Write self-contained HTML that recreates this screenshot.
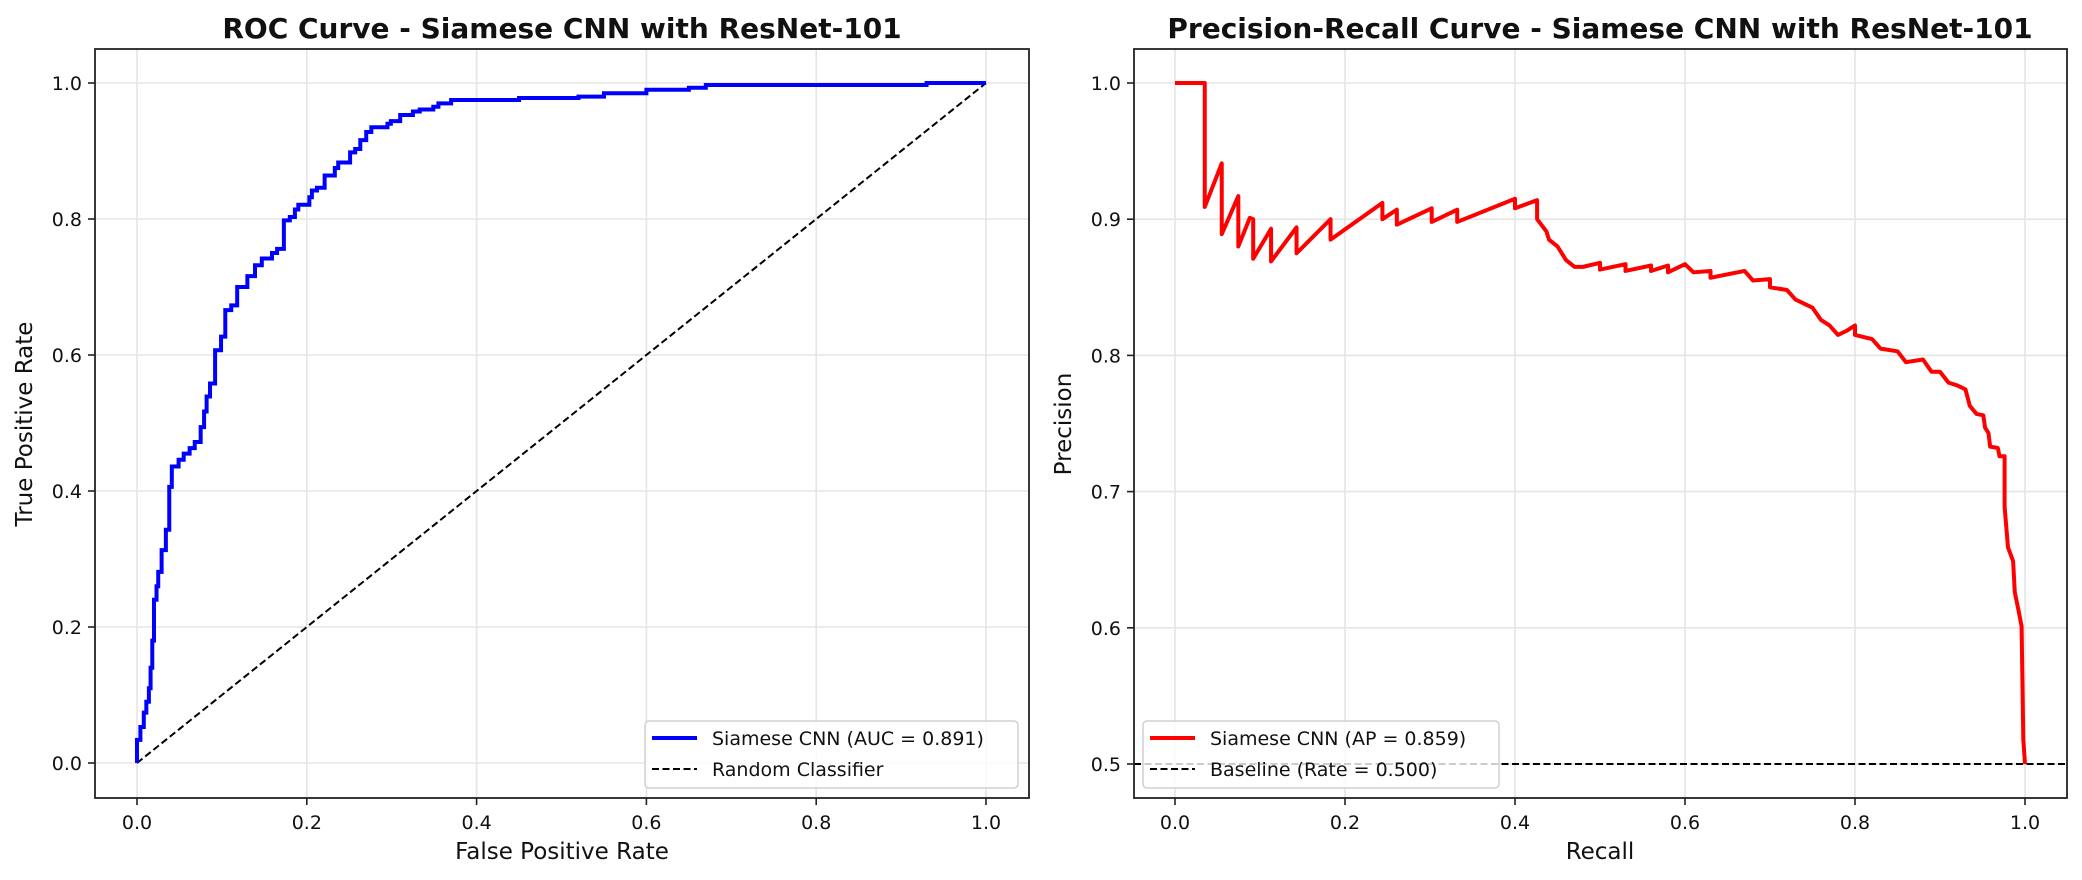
<!DOCTYPE html>
<html><head><meta charset="utf-8"><style>
html,body{margin:0;padding:0;background:#fff;}
svg{display:block;font-family:"DejaVu Sans","Liberation Sans",sans-serif;}
</style></head><body>
<svg id="fig" width="2082" height="880" viewBox="0 0 2082 880" xmlns="http://www.w3.org/2000/svg"></svg>
<script>
// ROC data
const rocFpr = [0,0,0.004,0.008,0.011,0.014,0.016,0.018,0.020,0.023,0.025,0.029,0.034,0.038,0.041,0.049,0.055,0.062,0.068,0.075,0.079,0.082,0.086,0.092,0.099,0.104,0.111,0.118,0.130,0.139,0.147,0.159,0.165,0.173,0.180,0.186,0.190,0.203,0.206,0.212,0.221,0.233,0.237,0.251,0.257,0.263,0.270,0.276,0.295,0.299,0.310,0.325,0.333,0.349,0.355,0.370,0.450,0.520,0.550,0.600,0.650,0.670,0.930,1.0];
const rocTpr = [0,0.034,0.053,0.074,0.090,0.110,0.140,0.180,0.240,0.260,0.281,0.313,0.343,0.406,0.436,0.446,0.455,0.463,0.472,0.494,0.517,0.539,0.558,0.607,0.627,0.666,0.673,0.700,0.716,0.732,0.742,0.750,0.756,0.798,0.803,0.814,0.821,0.832,0.842,0.846,0.864,0.875,0.883,0.898,0.903,0.916,0.928,0.935,0.940,0.944,0.953,0.958,0.961,0.965,0.970,0.975,0.978,0.980,0.985,0.990,0.993,0.997,1.0,1.0];
// PR data
const prRecall = [0,0.035,0.035,0.055,0.055,0.0745,0.0745,0.088,0.092,0.092,0.113,0.113,0.143,0.143,0.183,0.183,0.244,0.244,0.261,0.261,0.302,0.302,0.332,0.332,0.400,0.400,0.426,0.426,0.437,0.44,0.45,0.455,0.46,0.47,0.48,0.50,0.50,0.53,0.53,0.56,0.56,0.58,0.58,0.60,0.61,0.63,0.63,0.67,0.68,0.70,0.70,0.72,0.73,0.75,0.76,0.77,0.78,0.79,0.80,0.80,0.82,0.83,0.85,0.86,0.88,0.89,0.90,0.91,0.92,0.93,0.935,0.943,0.951,0.953,0.957,0.959,0.968,0.970,0.976,0.976,0.980,0.986,0.988,0.992,0.996,0.998,1.0];
const prPrecision = [1.0,1.0,0.909,0.941,0.889,0.917,0.880,0.901,0.900,0.871,0.893,0.869,0.894,0.875,0.900,0.885,0.912,0.900,0.907,0.896,0.908,0.898,0.907,0.898,0.915,0.908,0.914,0.900,0.891,0.885,0.880,0.875,0.870,0.865,0.865,0.868,0.863,0.867,0.862,0.866,0.862,0.866,0.861,0.867,0.861,0.862,0.857,0.862,0.855,0.856,0.850,0.848,0.841,0.835,0.826,0.822,0.815,0.818,0.822,0.815,0.812,0.805,0.803,0.795,0.797,0.788,0.788,0.780,0.778,0.775,0.763,0.757,0.756,0.747,0.743,0.733,0.732,0.726,0.726,0.689,0.659,0.649,0.626,0.614,0.601,0.518,0.5];
const rocTicks = [0,0.2,0.4,0.6,0.8,1.0];
const rocTickLabels = ["0.0","0.2","0.4","0.6","0.8","1.0"];
const prYTicks = [0.5,0.6,0.7,0.8,0.9,1.0];
const prYTickLabels = ["0.5","0.6","0.7","0.8","0.9","1.0"];
const baselineRate = 0.5;

const NS="http://www.w3.org/2000/svg";
const svg=document.getElementById('fig');
function mk(tag,attrs,parent){const e=document.createElementNS(NS,tag);for(const k in attrs)e.setAttribute(k,attrs[k]);(parent||svg).appendChild(e);return e;}

const L={x0:95,x1:1029,y0:49,y1:798};
const R={x0:1134,x1:2067,y0:49,y1:798};
const rx=v=>137+v*849, ry=v=>763-v*680;
const px=v=>1175+v*850, py=v=>764-(v-0.5)*1362;

function grid(ax,xt,yt,fx,fy,name){
  const g=mk('g',{});
  
  
  xt.forEach(t=>mk('line',{x1:fx(t),x2:fx(t),y1:ax.y0,y2:ax.y1,stroke:'#e5e5e5','stroke-width':1.6},g));
  yt.forEach(t=>mk('line',{x1:ax.x0,x2:ax.x1,y1:fy(t),y2:fy(t),stroke:'#e5e5e5','stroke-width':1.6},g));
}
function axes(ax,xt,xl,yt,yl,fx,fy,name){
  const g=mk('g',{});
  
  
  xt.forEach((t,i)=>{mk('line',{x1:fx(t),x2:fx(t),y1:ax.y1,y2:ax.y1+7,stroke:'#222','stroke-width':1.6},g);
    const tx=mk('text',{x:fx(t),y:829,'font-size':19,'text-anchor':'middle',fill:'#111'},g);tx.textContent=xl[i];
    
    });
  yt.forEach((t,i)=>{mk('line',{x1:ax.x0-7,x2:ax.x0,y1:fy(t),y2:fy(t),stroke:'#222','stroke-width':1.6},g);
    const tx=mk('text',{x:ax.x0-13,y:fy(t)+7,'font-size':19,'text-anchor':'end',fill:'#111'},g);tx.textContent=yl[i];
    
    });
  mk('rect',{x:ax.x0,y:ax.y0,width:ax.x1-ax.x0,height:ax.y1-ax.y0,fill:'none',stroke:'#222','stroke-width':1.8},g);
}
function txt(s,attrs,name){const t=mk('text',attrs);t.textContent=s;
  
  return t;}

// ROC panel
grid(L,rocTicks,rocTicks,rx,ry,'roc');
let d='M'+rx(rocFpr[0])+','+ry(rocTpr[0]);
for(let i=1;i<rocFpr.length;i++){d+=' L'+rx(rocFpr[i])+','+ry(rocTpr[i-1])+' L'+rx(rocFpr[i])+','+ry(rocTpr[i]);}
const rl=mk('line',{x1:rx(0),y1:ry(0),x2:rx(1),y2:ry(1),stroke:'#000','stroke-width':2,'stroke-dasharray':'7,3.5'});


const rc=mk('path',{d:d,fill:'none',stroke:'#0000ff','stroke-width':4,'stroke-linejoin':'miter'});


axes(L,rocTicks,rocTickLabels,rocTicks,rocTickLabels,rx,ry,'roc');
txt('ROC Curve - Siamese CNN with ResNet-101',{x:562,y:38,'font-size':28,'font-weight':'bold','text-anchor':'middle',fill:'#111'},'roc-title');
txt('False Positive Rate',{x:562,y:859,'font-size':23,'text-anchor':'middle',fill:'#111'},'roc-x-axis-title');
txt('True Positive Rate',{x:0,y:0,'font-size':23,'text-anchor':'middle',fill:'#111',transform:'translate(32,424) rotate(-90)'},'roc-y-axis-title');

// PR panel
grid(R,rocTicks,prYTicks,px,py,'pr');
const bl=mk('line',{x1:R.x0,y1:py(baselineRate),x2:R.x1,y2:py(baselineRate),stroke:'#000','stroke-width':2,'stroke-dasharray':'7,3.5'});


const pts=prRecall.map((r,i)=>px(r)+','+py(prPrecision[i])).join(' ');
const pc=mk('polyline',{points:pts,fill:'none',stroke:'#ff0000','stroke-width':4,'stroke-linejoin':'round'});


axes(R,rocTicks,rocTickLabels,prYTicks,prYTickLabels,px,py,'pr');
txt('Precision-Recall Curve - Siamese CNN with ResNet-101',{x:1600,y:38,'font-size':28,'font-weight':'bold','text-anchor':'middle',fill:'#111'},'pr-title');
txt('Recall',{x:1600,y:859,'font-size':23,'text-anchor':'middle',fill:'#111'},'pr-x-axis-title');
txt('Precision',{x:0,y:0,'font-size':23,'text-anchor':'middle',fill:'#111',transform:'translate(1071,424) rotate(-90)'},'pr-y-axis-title');

// legends
function legend(x0,x1,entries,name){
  const g=mk('g',{});
  
  
  mk('rect',{x:x0,y:721,width:x1-x0,height:67,rx:4,fill:'rgba(255,255,255,0.8)',stroke:'#d0d0d0','stroke-width':1.5},g);
  entries.forEach((e,i)=>{const y=738+i*31;
    const ln=mk('line',{x1:x0+7,x2:x0+52,y1:y,y2:y,stroke:e.c,'stroke-width':e.w},g);
    if(e.dash)ln.setAttribute('stroke-dasharray','7,3.5');
    const t=mk('text',{x:x0+67,y:y+7,'font-size':19,fill:'#111'},g);t.textContent=e.t;
    
    });
}
legend(645,1018,[{c:'#0000ff',w:4,t:'Siamese CNN (AUC = 0.891)'},{c:'#000',w:2,dash:1,t:'Random Classifier'}],'roc-legend');
legend(1143,1499,[{c:'#ff0000',w:4,t:'Siamese CNN (AP = 0.859)'},{c:'#000',w:2,dash:1,t:'Baseline (Rate = 0.500)'}],'pr-legend');
</script>
</body></html>
